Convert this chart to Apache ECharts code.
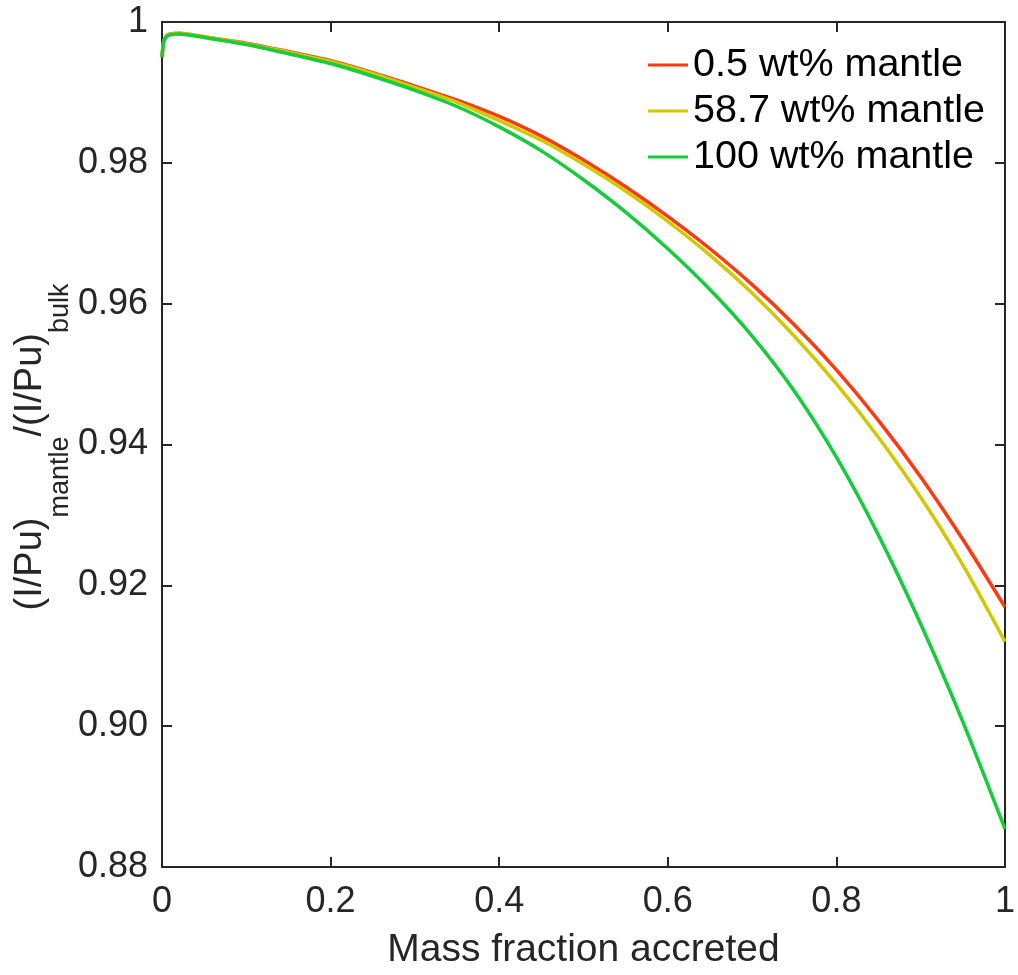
<!DOCTYPE html>
<html>
<head>
<meta charset="utf-8">
<script src="https://cdn.jsdelivr.net/npm/echarts@6/dist/echarts.min.js"></script>
<style>
html,body{margin:0;padding:0;background:#fff;overflow:hidden;}
#chart{width:1018px;height:975px;}
</style>
</head>
<body>
<div id="chart"></div>
<script>
// Mass fraction accreted (x)
const massFraction = [0, 0.002, 0.005, 0.01, 0.02, 0.05, 0.1, 0.15, 0.2, 0.25, 0.3, 0.35, 0.4, 0.45, 0.5, 0.55, 0.6, 0.65, 0.7, 0.75, 0.8, 0.85, 0.9, 0.95, 1.0];
// (I/Pu)mantle/(I/Pu)bulk for each series
const mantle05  = [0.9950, 0.9972, 0.9980, 0.9983, 0.9984, 0.9979, 0.9970, 0.9958, 0.9945, 0.9928, 0.9909, 0.9889, 0.9866, 0.9838, 0.9804, 0.9766, 0.9724, 0.9678, 0.9627, 0.9570, 0.9506, 0.9434, 0.9354, 0.9265, 0.9169];
const mantle587 = [0.9950, 0.9972, 0.9980, 0.9983, 0.9984, 0.9979, 0.9969, 0.9957, 0.9944, 0.9927, 0.9907, 0.9886, 0.9860, 0.9832, 0.9798, 0.9760, 0.9717, 0.9669, 0.9615, 0.9554, 0.9486, 0.9410, 0.9325, 0.9229, 0.9120];
const mantle100 = [0.9950, 0.9971, 0.9979, 0.9982, 0.9983, 0.9978, 0.9968, 0.9955, 0.9941, 0.9923, 0.9903, 0.9880, 0.9851, 0.9817, 0.9776, 0.9730, 0.9678, 0.9620, 0.9554, 0.9476, 0.9382, 0.9271, 0.9145, 0.9006, 0.8854];
const seriesNames = ['0.5 wt% mantle', '58.7 wt% mantle', '100 wt% mantle'];
const seriesColors = ['#FF3A12', '#D2C800', '#14CC3C'];
const xTickLabels = ['0', '0.2', '0.4', '0.6', '0.8', '1'];
const yTickLabels = ['0.88', '0.90', '0.92', '0.94', '0.96', '0.98', '1'];

const FONT = 'Liberation Sans, Arial, sans-serif';
const AXC = '#262626';

function pairs(xs, ys){ return xs.map((x,i)=>[x, ys[i]]); }

const chart = echarts.init(document.getElementById('chart'), null, {renderer:'canvas'});

const baseX = {
  type:'value', min:0, max:1, interval:0.2,
  axisLine:{show:true, onZero:false, lineStyle:{color:AXC, width:2}},
  axisTick:{show:true, inside:true, length:10, lineStyle:{color:AXC, width:2}},
  splitLine:{show:false}
};
const baseY = {
  type:'value', min:0.88, max:1, interval:0.02,
  axisLine:{show:true, onZero:false, lineStyle:{color:AXC, width:2}},
  axisTick:{show:true, inside:true, length:10, lineStyle:{color:AXC, width:2}},
  splitLine:{show:false}
};

const option = {
  backgroundColor:'#ffffff',
  animation:false,
  grid:{left:162, right:8, top:22, bottom:104, containLabel:false},
  xAxis:[
    Object.assign({}, baseX, {
      position:'bottom',
      name:'Mass fraction accreted', nameLocation:'middle', nameGap:64,
      nameTextStyle:{fontFamily:FONT, fontSize:39, color:AXC},
      axisLabel:{show:true, margin:17, fontFamily:FONT, fontSize:36, color:AXC,
        formatter:(v)=>{ const i=Math.round(v/0.2); return xTickLabels[i]; }}
    }),
    Object.assign({}, baseX, {position:'top', axisLabel:{show:false}})
  ],
  yAxis:[
    Object.assign({}, baseY, {
      position:'left',
      axisLabel:{show:true, margin:14, fontFamily:FONT, fontSize:36, color:AXC,
        formatter:(v)=>{ const i=Math.round((v-0.88)/0.02); return yTickLabels[i]; }}
    }),
    Object.assign({}, baseY, {position:'right', axisLabel:{show:false}})
  ],
  legend:{
    orient:'vertical', left:643, top:40,
    itemWidth:40, itemHeight:3, itemGap:6,
    icon:'rect',
    textStyle:{fontFamily:FONT, fontSize:39.5, color:'#000', lineHeight:40},
    data:seriesNames
  },
  graphic:[{
    type:'text',
    x:43, y:447,
    rotation:Math.PI/2,
    style:{
      text:'{m|(I/Pu)}{s|mantle}{m|/(I/Pu)}{s|bulk}',
      align:'center', verticalAlign:'middle',
      fontFamily:FONT, fill:AXC,
      rich:{
        m:{fontFamily:FONT, fontSize:38, fill:AXC, lineHeight:40, verticalAlign:'top'},
        s:{fontFamily:FONT, fontSize:27, fill:AXC, lineHeight:62, verticalAlign:'bottom'}
      }
    }
  }],
  series:[
    {name:seriesNames[0], type:'line', data:pairs(massFraction, mantle05), smooth:0.25, showSymbol:false,
     lineStyle:{color:seriesColors[0], width:3.5}, itemStyle:{color:seriesColors[0]}},
    {name:seriesNames[1], type:'line', data:pairs(massFraction, mantle587), smooth:0.25, showSymbol:false,
     lineStyle:{color:seriesColors[1], width:3.5}, itemStyle:{color:seriesColors[1]}},
    {name:seriesNames[2], type:'line', data:pairs(massFraction, mantle100), smooth:0.25, showSymbol:false,
     lineStyle:{color:seriesColors[2], width:3.5}, itemStyle:{color:seriesColors[2]}}
  ]
};
chart.setOption(option);
</script>
</body>
</html>
